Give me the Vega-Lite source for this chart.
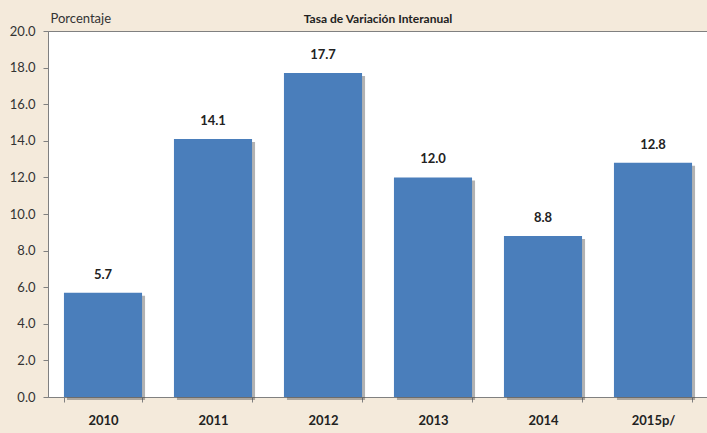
{
  "$schema": "https://vega.github.io/schema/vega-lite/v6.json",
  "width": 660,
  "height": 366,
  "autosize": "none",
  "padding": {"left": 48, "top": 31, "right": 0, "bottom": 36},
  "background": "#F4EADB",
  "config": {
    "view": {"stroke": "#808080", "strokeWidth": 1, "fill": "white"},
    "font": "Lato"
  },
  "title": {
    "text": "Tasa de Variación Interanual",
    "font": "Lato",
    "fontSize": 12,
    "fontWeight": "bold",
    "color": "#222222",
    "anchor": "middle",
    "frame": "group",
    "baseline": "bottom",
    "offset": -26
  },
  "data": {
    "values": [
      {"year": "2010", "value": 5.7},
      {"year": "2011", "value": 14.1},
      {"year": "2012", "value": 17.7},
      {"year": "2013", "value": 12.0},
      {"year": "2014", "value": 8.8},
      {"year": "2015p/", "value": 12.8}
    ]
  },
  "encoding": {
    "x": {
      "field": "year",
      "type": "nominal",
      "sort": null,
      "scale": {"paddingInner": 0.29, "paddingOuter": 0.145},
      "axis": {
        "title": null,
        "labelAngle": 0,
        "labelFont": "Lato",
        "labelFontWeight": "bold",
        "labelFontSize": 13,
        "labelColor": "#222222",
        "labelPadding": 12,
        "tickBand": "extent",
        "tickColor": "#808080",
        "tickSize": 5,
        "domainColor": "#808080"
      }
    },
    "y": {
      "field": "value",
      "type": "quantitative",
      "scale": {"domain": [0, 20], "nice": false},
      "axis": {
        "values": [0, 2, 4, 6, 8, 10, 12, 14, 16, 18, 20],
        "format": ".1f",
        "grid": false,
        "title": "Porcentaje",
        "titleAngle": 0,
        "titleAlign": "left",
        "titleBaseline": "bottom",
        "titleX": 2,
        "titleY": -6,
        "titleFont": "Lato",
        "titleFontWeight": "normal",
        "titleFontSize": 13,
        "titleColor": "#333333",
        "labelFont": "Lato",
        "labelFontSize": 13,
        "labelColor": "#333333",
        "labelPadding": 8,
        "tickColor": "#808080",
        "tickSize": 5,
        "domainColor": "#808080"
      }
    }
  },
  "layer": [
    {
      "mark": {"type": "bar", "color": "#555555", "opacity": 0.45, "xOffset": 3, "yOffset": 3},
      "encoding": {}
    },
    {
      "mark": {"type": "bar", "color": "#4A7EBB"}
    },
    {
      "mark": {"type": "text", "dy": -18, "font": "Lato", "fontWeight": "bold", "fontSize": 13, "color": "#222222"},
      "encoding": {"text": {"field": "value", "type": "quantitative", "format": ".1f"}}
    }
  ]
}
